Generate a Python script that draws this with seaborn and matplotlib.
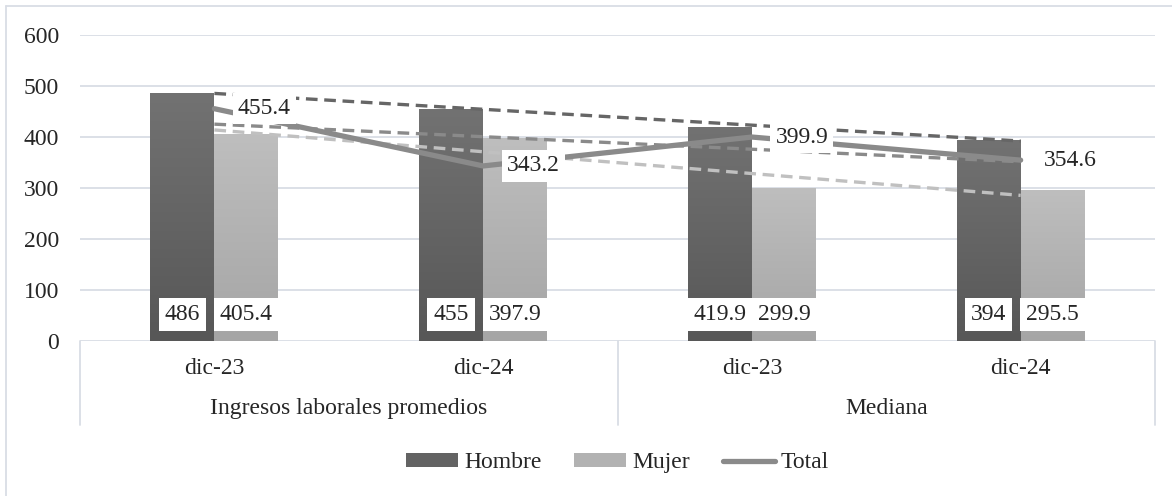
import matplotlib
matplotlib.use('Agg')
import numpy as np
import pandas as pd
import matplotlib.pyplot as plt
import seaborn as sns
from matplotlib.lines import Line2D
from matplotlib.patches import Patch
from matplotlib.colors import LinearSegmentedColormap

# Datos
periodos = ["dic-23", "dic-24", "dic-23", "dic-24"]
grupos = ["Ingresos laborales promedios", "Mediana"]
hombre = [486, 455, 419.9, 394]
mujer = [405.4, 397.9, 299.9, 295.5]
total = [455.4, 343.2, 399.9, 354.6]
series = ["Hombre", "Mujer"]

sns.set_theme(style="white")
plt.rcParams['font.family'] = ['Liberation Serif', 'DejaVu Serif']
FS = 17
GRID = '#d9dde5'

# Tabla larga para seaborn (claves únicas por posición)
claves = [f"{i}_{p}" for i, p in enumerate(periodos)]
df = pd.DataFrame({
    "pos": claves * 2,
    "Sexo": ["Hombre"] * 4 + ["Mujer"] * 4,
    "valor": hombre + mujer,
})

fig = plt.figure(figsize=(11.72, 4.96), dpi=100)
ax = fig.add_axes([0.0683, 0.3125, 0.9172, 0.617])

colores = {"Hombre": "#636363", "Mujer": "#b2b2b2"}
sns.barplot(data=df, x="pos", y="valor", hue="Sexo", order=claves,
            hue_order=series, palette=colores, width=0.476, gap=0,
            saturation=1, legend=False, ax=ax, zorder=2, linewidth=0)

# Degradado vertical en cada barra
grad = {"Hombre": ("#575757", "#727272"), "Mujer": ("#a5a5a5", "#bebebe")}
barras = [p for p in ax.patches]
for k, p in enumerate(barras):
    sexo = series[k // 4]
    cmap = LinearSegmentedColormap.from_list(sexo, grad[sexo])
    x0, y0 = p.get_x(), p.get_y()
    w, h = p.get_width(), p.get_height()
    img = ax.imshow(np.linspace(0, 1, 256).reshape(-1, 1), cmap=cmap,
                    extent=[x0, x0 + w, y0, y0 + h], origin='lower',
                    aspect='auto', zorder=2.1)
    img.set_clip_path(p)

# Líneas de tendencia (ajuste lineal)
xs = np.arange(4)
tendencias = [(hombre, '#666666'), (total, '#8a8a8a'), (mujer, '#c0c0c0')]
for vals, c in tendencias:
    m, b = np.polyfit(xs, vals, 1)
    ax.plot([xs[0], xs[-1]], [m * xs[0] + b, m * xs[-1] + b], color=c,
            lw=2.4, ls=(0, (3.5, 2)), zorder=3)

# Línea Total
sns.lineplot(x=xs, y=total, color='#8a8a8a', lw=3.8, ax=ax, zorder=3.5,
             solid_capstyle='round')

# Etiquetas del total
for i, v in enumerate(total):
    ax.annotate(f"{v}", (i, v), xytext=(50, 0), textcoords='offset pixels',
                ha='center', va='center', fontsize=FS, zorder=6,
                bbox=dict(boxstyle='square,pad=0.22', fc='white', ec='none'))

# Etiquetas de barras
for k, p in enumerate(barras):
    v = (hombre + mujer)[k]
    ax.text(p.get_x() + p.get_width() / 2, 52, f"{v:g}", ha='center',
            va='center', fontsize=FS, zorder=6,
            bbox=dict(boxstyle='square,pad=0.26', fc='white', ec='none'))

ax.set_xlim(-0.5, 3.5)
ax.set_ylim(0, 600)
ax.set_yticks(range(0, 601, 100))
ax.tick_params(axis='y', length=0, pad=15, labelsize=FS)
ax.tick_params(axis='x', length=0, pad=12, labelsize=FS)
ax.set_xticks(xs)
ax.set_xticklabels(periodos)
ax.set_xlabel("")
ax.set_ylabel("")
for s in ax.spines.values():
    s.set_visible(False)
ax.yaxis.grid(True, color=GRID, lw=1.3, zorder=0)
ax.set_axisbelow(True)

# Etiquetas de grupo y separadores
for j, g in enumerate(grupos):
    ax.text(0.25 + 0.5 * j, -0.222, g, transform=ax.transAxes, ha='center',
            va='center', fontsize=FS)
for xsep in [0, 0.5, 1]:
    ax.add_line(Line2D([xsep, xsep], [0, -0.275], transform=ax.transAxes,
                       color=GRID, lw=1.3, clip_on=False))

# Marco del gráfico
fig.add_artist(Line2D([6 / 1172, 6 / 1172], [0, 1 - 6 / 496], color=GRID, lw=1.3))
fig.add_artist(Line2D([6 / 1172, 1], [1 - 6 / 496, 1 - 6 / 496], color=GRID, lw=1.3))

# Leyenda
handles = [Patch(fc='#636363', ec='none'), Patch(fc='#b2b2b2', ec='none'),
           Line2D([], [], color='#8a8a8a', lw=3.8, solid_capstyle='round')]
fig.legend(handles, ["Hombre", "Mujer", "Total"], loc='center',
           bbox_to_anchor=(0.527, 0.067), ncol=3, frameon=False, fontsize=FS,
           handlelength=2.2, handleheight=0.55, handletextpad=0.25,
           columnspacing=1.4)

fig.savefig("out.png", dpi=100)
